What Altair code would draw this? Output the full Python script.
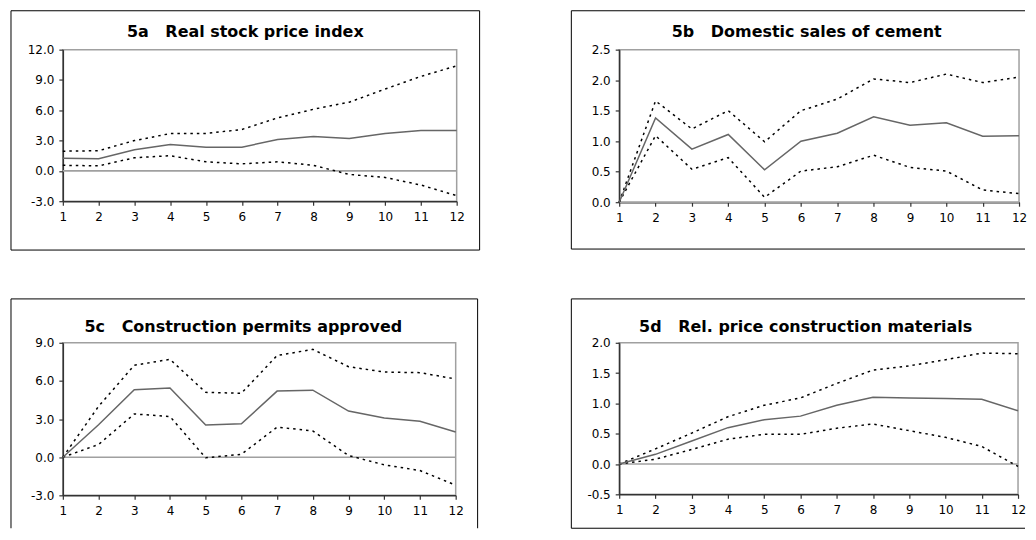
import altair as alt
import pandas as pd

steps = list(range(1, 13))

panel_ids = ["5a", "5b", "5c", "5d"]
panel_names = [
    "Real stock price index",
    "Domestic sales of cement",
    "Construction permits approved",
    "Rel. price construction materials",
]

# 5a Real stock price index
a_mid = [1.25, 1.2, 2.1, 2.6, 2.35, 2.35, 3.1, 3.4, 3.2, 3.7, 4.0, 4.0]
a_upper = [1.95, 2.0, 3.0, 3.7, 3.7, 4.1, 5.25, 6.1, 6.8, 8.1, 9.35, 10.4]
a_lower = [0.55, 0.5, 1.3, 1.5, 0.9, 0.7, 0.9, 0.55, -0.35, -0.65, -1.4, -2.45]
a_ticks = [-3.0, 0.0, 3.0, 6.0, 9.0, 12.0]

# 5b Domestic sales of cement
b_mid = [0.0, 1.38, 0.87, 1.11, 0.53, 1.0, 1.13, 1.4, 1.26, 1.3, 1.08, 1.09]
b_upper = [0.0, 1.66, 1.2, 1.5, 0.99, 1.5, 1.69, 2.02, 1.96, 2.1, 1.96, 2.05]
b_lower = [0.0, 1.09, 0.54, 0.73, 0.08, 0.51, 0.58, 0.77, 0.57, 0.51, 0.2, 0.14]
b_ticks = [0.0, 0.5, 1.0, 1.5, 2.0, 2.5]

# 5c Construction permits approved
c_mid = [0.0, 2.55, 5.3, 5.45, 2.53, 2.63, 5.2, 5.27, 3.63, 3.08, 2.82, 1.98]
c_upper = [0.0, 4.0, 7.23, 7.7, 5.1, 5.03, 8.0, 8.48, 7.12, 6.7, 6.65, 6.15]
c_lower = [0.0, 1.0, 3.4, 3.2, -0.05, 0.23, 2.37, 2.06, 0.13, -0.6, -1.05, -2.2]
c_ticks = [-3.0, 0.0, 3.0, 6.0, 9.0]

# 5d Rel. price construction materials
d_mid = [0.0, 0.16, 0.38, 0.6, 0.73, 0.79, 0.97, 1.1, 1.09, 1.08, 1.07, 0.88]
d_upper = [0.0, 0.25, 0.51, 0.78, 0.97, 1.09, 1.33, 1.55, 1.62, 1.72, 1.83, 1.82]
d_lower = [0.0, 0.08, 0.24, 0.41, 0.49, 0.49, 0.59, 0.66, 0.55, 0.44, 0.29, -0.04]
d_ticks = [-0.5, 0.0, 0.5, 1.0, 1.5, 2.0]

one = pd.DataFrame({"k": [0]})


def edge(x1, x2, y1, y2):
    return alt.Chart(one).mark_rule(color="black", strokeWidth=1).encode(
        x=alt.value(x1), x2=alt.value(x2), y=alt.value(y1), y2=alt.value(y2)
    )


def panel(idx, mid, upper, lower, ticks, width, height, edges, tx, ty):
    df_mid = pd.DataFrame({"step": steps, "value": mid})
    df_band = pd.DataFrame({
        "step": steps + steps,
        "value": upper + lower,
        "bound": ["upper"] * len(steps) + ["lower"] * len(steps),
    })
    xscale = alt.Scale(domain=[steps[0], steps[-1]], nice=False, zero=False)
    xaxis = alt.Axis(values=steps, format="d", title=None, grid=False,
                     labelFlush=False, labelOverlap=False, labelPadding=6)
    yscale = alt.Scale(domain=[ticks[0], ticks[-1]], nice=False, zero=False)
    yaxis = alt.Axis(values=ticks, title=None, grid=False,
                     labelExpr="replace(format(datum.value, '.1f'), '\u2212', '-')",
                     labelFlush=False, labelOverlap=False, labelPadding=5)
    xenc = alt.X("step:Q", scale=xscale, axis=xaxis)
    yenc = alt.Y("value:Q", scale=yscale, axis=yaxis)
    zero = alt.Chart(one).mark_rule(color="#a0a0a0", strokeWidth=1.6).encode(
        y=alt.Y(datum=0, type="quantitative", scale=yscale, axis=yaxis)
    )
    band = alt.Chart(df_band).mark_line(
        color="black", strokeWidth=1.5, strokeDash=[2.5, 4]
    ).encode(x=xenc, y=yenc, detail="bound:N")
    line = alt.Chart(df_mid).mark_line(color="#666666", strokeWidth=1.5).encode(
        x=xenc, y=yenc
    )
    title_df = pd.DataFrame({
        "t": [panel_ids[idx] + "\u00a0\u00a0\u00a0" + panel_names[idx]]
    })
    title = alt.Chart(title_df).mark_text(
        font="DejaVu Sans", fontSize=16, fontWeight="bold", align="center",
        baseline="alphabetic", color="black"
    ).encode(text="t:N", x=alt.value(tx), y=alt.value(ty))
    layers = [edge(*e) for e in edges] + [zero, band, line, title]
    return alt.layer(*layers).properties(width=width, height=height)


pa = panel(0, a_mid, a_upper, a_lower, a_ticks, 395, 152,
           [(-52, 418, -39, -39), (-52, 418, 201, 201), (-52, -52, -39, 201), (418, 418, -39, 201)],
           183, -12.5)
pb = panel(1, b_mid, b_upper, b_lower, b_ticks, 401, 153,
           [(-48, 407, -39, -39), (-48, 407, 200, 200), (-48, -48, -39, 200)],
           188, -12.5)
pc = panel(2, c_mid, c_upper, c_lower, c_ticks, 394, 153,
           [(-52, 416, -44, -44), (-52, -52, -44, 186), (416, 416, -44, 186)],
           181, -11)
pd_ = panel(3, d_mid, d_upper, d_lower, d_ticks, 400, 152,
            [(-48, 407, -44, -44), (-48, -48, -44, 186), (-48, 407, 186, 186)],
            187, -11)

chart = alt.concat(
    pa, pb, pc, pd_, columns=2,
    spacing={"row": 141, "column": 163}, bounds="flush"
).properties(
    padding={"left": 1, "top": 0, "right": 0, "bottom": 0}
).configure_view(
    stroke="#a0a0a0", strokeWidth=1.5
).configure_axis(
    domainColor="#333333", domainWidth=1.5, tickColor="#333333", tickWidth=1.2,
    tickSize=4, labelFont="DejaVu Sans", labelFontSize=12, labelColor="black",
    labelOverlap=False, labelFlush=False, zindex=1
)

chart.save("out.html", embed_options={"renderer": "svg", "actions": False})
